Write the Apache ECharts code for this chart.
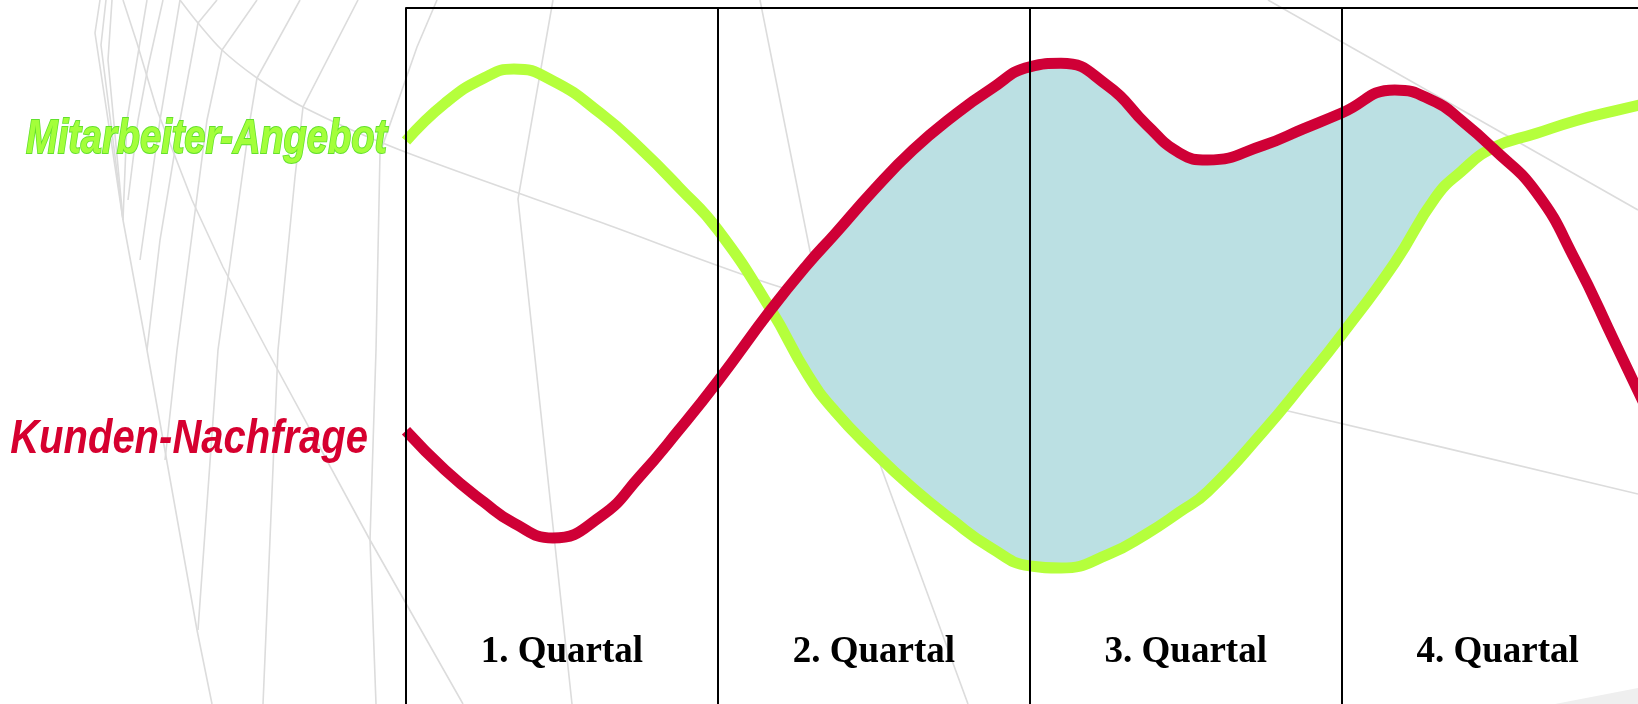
<!DOCTYPE html>
<html>
<head>
<meta charset="utf-8">
<script src="https://cdn.jsdelivr.net/npm/echarts@6/dist/echarts.min.js"></script>
<style>
html,body{margin:0;padding:0;background:#fff;}
#chart{width:1638px;height:704px;}
</style>
</head>
<body>
<div id="chart"></div>
<script>
// ---- data (position along the year in quarters, level 0..100) ----
const quarterLabels = ['1. Quartal', '2. Quartal', '3. Quartal', '4. Quartal'];
const quarterCenters = [0.5, 1.5, 2.5, 3.5];
const seriesNames = ['Mitarbeiter-Angebot', 'Kunden-Nachfrage'];
const xs = [0,0.125,0.25,0.346,0.471,0.625,0.75,0.875,1,1.17,1.288,1.375,1.5,1.625,1.75,1.875,2,2.1,2.25,2.375,2.48,2.57,2.75,2.875,3,3.17,3.3,3.382,3.484,3.625,3.75,3.875,4];
const kundenNachfrage = [39.6,34.0,29.4,26.4,24.3,27.4,33.1,39.7,46.7,56.9,63.4,67.7,74.0,79.7,84.4,88.4,91.6,92.1,88.9,83.3,79.3,78.3,80.4,82.7,85.0,88.3,86.6,84.0,80.0,73.6,63.9,52.3,40.6];
const mitarbeiterAngebot = [81.0,86.4,90.0,91.3,89.6,84.9,80.0,74.4,68.3,56.9,47.6,42.4,36.6,31.4,26.9,22.9,20.3,20.0,21.9,24.9,28.0,30.9,39.6,46.3,53.3,63.6,72.9,76.6,80.0,82.1,83.9,85.3,86.6];

// ---- decorative background web (not data) ----
const backgroundWeb = [
  [[180,0],[198,23],[222,50],[257,78],[303,107],[400,150],[600,222],[780,287],[1000,347],[1288,411],[1638,494]],
  [[100,0],[95,33],[123,220],[147,350],[197,630],[212,704]],
  [[106,0],[101,45],[123,220]],
  [[112,0],[108,60],[123,220]],
  [[123,0],[137,43],[157,110],[192,200],[223,267],[267,350],[370,540],[463,704]],
  [[147,0],[127,120],[123,220]],
  [[163,0],[148,67],[138,120],[128,200]],
  [[180,0],[160,120],[140,260]],
  [[217,0],[198,23],[180,120],[160,240],[147,350]],
  [[257,0],[222,50],[207,120],[177,350],[165,460]],
  [[300,0],[257,78],[250,120],[218,350],[198,630]],
  [[358,0],[303,107],[295,177],[278,350],[263,704]],
  [[437,0],[417,47],[380,153],[376,350],[370,540],[376,704]],
  [[553,0],[518,199],[572,704]],
  [[760,0],[810,251],[881,467],[968,704]],
  [[1268,0],[1638,210]]
];

const pairs = (ys) => xs.map((x, i) => [x, ys[i]]);
const pairsYX = (ys) => xs.map((x, i) => [ys[i], x]);
// shaded gap only where demand is at or above supply (between the two crossings)
const gap = kundenNachfrage.map((r, i) => (r >= mitarbeiterAngebot[i] ? r - mitarbeiterAngebot[i] : null));

const GREEN = '#b5ff3c';
const RED = '#cf0036';
const SMOOTH = 0.5;

const chart = echarts.init(document.getElementById('chart'), null, {renderer: 'canvas'});

const graphics = backgroundWeb.map((pts, i) => ({
  type: 'polyline',
  z: 0,
  silent: true,
  shape: {points: pts, smooth: i === 0 ? 0.3 : 0},
  style: {stroke: '#dcdcdc', lineWidth: 1.6, fill: null}
}));
graphics.push({
  type: 'polygon', z: 0, silent: true,
  shape: {points: [[1555,704],[1638,688],[1638,704]]},
  style: {fill: '#efefef'}
});
graphics.push({
  type: 'text', z: 20, x: 387, y: 140, scaleY: 1.28,
  style: {
    text: seriesNames[0],
    font: 'italic bold 38px "Liberation Sans", Arial, sans-serif',
    fill: '#a3ff3a', stroke: '#62e02c', lineWidth: 1.5,
    align: 'right', verticalAlign: 'middle'
  }
});
graphics.push({
  type: 'text', z: 20, x: 368, y: 440, scaleY: 1.22,
  style: {
    text: seriesNames[1],
    font: 'italic bold 40px "Liberation Sans", Arial, sans-serif',
    fill: '#d6002f',
    align: 'right', verticalAlign: 'middle'
  }
});

// grid ends at the window edge; the 4th quarter continues a few pixels beyond it
const X_MAX = 3.95;

const option = {
  animation: false,
  backgroundColor: '#ffffff',
  grid: {left: 406, top: 8, right: 0, bottom: 0, show: false},
  xAxis: [
    {
      type: 'value', min: 0, max: X_MAX, interval: 1, position: 'top', z: 10,
      axisLine: {show: true, onZero: false, lineStyle: {color: '#000', width: 2}},
      axisTick: {show: false}, axisLabel: {show: false},
      splitLine: {show: true, showMinLine: true, showMaxLine: false, lineStyle: {color: '#000', width: 2}}
    },
    {
      type: 'value', min: 0, max: X_MAX, position: 'bottom', z: 10,
      axisLine: {show: false}, axisTick: {show: false}, splitLine: {show: false},
      axisLabel: {
        inside: true, margin: 52, verticalAlign: 'middle',
        customValues: quarterCenters,
        formatter: (v) => quarterLabels[Math.floor(v)],
        fontFamily: '"Liberation Serif", "Times New Roman", serif',
        fontWeight: 'bold', fontSize: 37, color: '#000'
      }
    }
  ],
  yAxis: {
    type: 'value', min: 0.5714, max: 100, show: false
  },
  graphic: {elements: graphics},
  series: [
    {
      name: 'base', type: 'line', stack: 'gap', xAxisIndex: 0, data: pairsYX(mitarbeiterAngebot),
      encode: {x: 1, y: 0},
      smooth: SMOOTH, symbol: 'none', silent: true, z: 2,
      lineStyle: {width: 0, opacity: 0}
    },
    {
      name: 'gap', type: 'line', stack: 'gap', xAxisIndex: 0, data: pairsYX(gap),
      encode: {x: 1, y: 0},
      smooth: SMOOTH, symbol: 'none', silent: true, z: 2,
      lineStyle: {width: 0, opacity: 0},
      areaStyle: {color: '#bbe0e3', opacity: 1}
    },
    {
      name: seriesNames[0], type: 'line', xAxisIndex: 0, data: pairs(mitarbeiterAngebot),
      smooth: SMOOTH, symbol: 'none', z: 3,
      lineStyle: {color: GREEN, width: 11}
    },
    {
      name: seriesNames[1], type: 'line', xAxisIndex: 0, data: pairs(kundenNachfrage),
      smooth: SMOOTH, symbol: 'none', z: 4,
      lineStyle: {color: RED, width: 11}
    }
  ]
};
chart.setOption(option);
</script>
</body>
</html>
